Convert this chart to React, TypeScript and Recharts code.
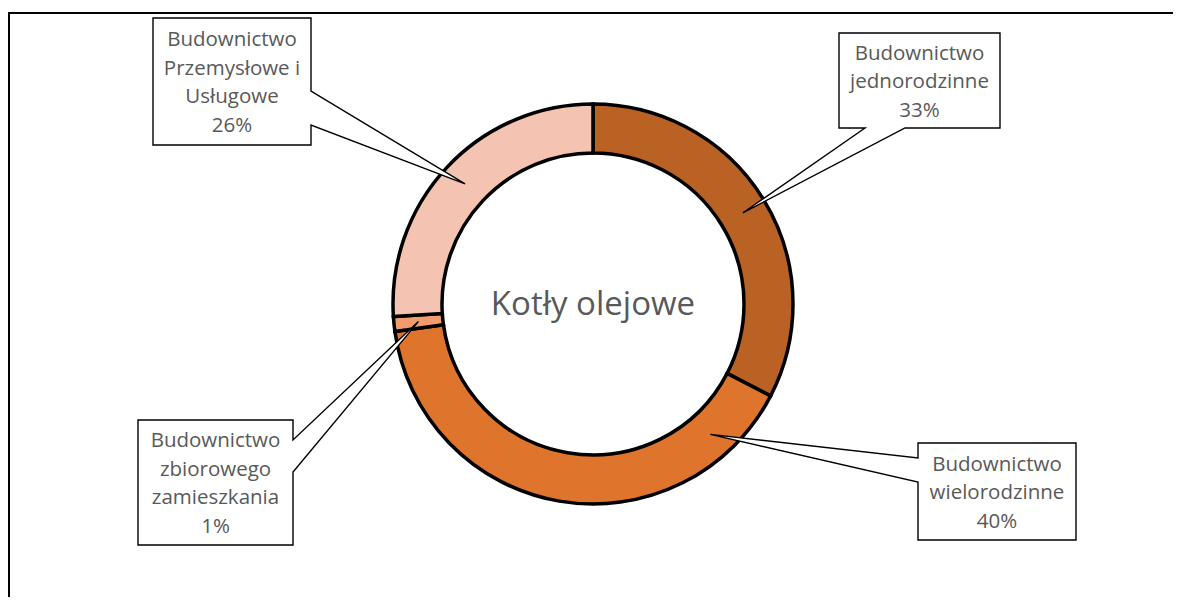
import React from "react";
import { PieChart, Pie, Cell } from "recharts";

// Kotły olejowe – share of oil boilers by building type (clockwise from 12 o'clock)
const categories = [
  "Budownictwo jednorodzinne",
  "Budownictwo wielorodzinne",
  "Budownictwo zbiorowego zamieszkania",
  "Budownictwo Przemysłowe i Usługowe",
];
const shares = [32.6, 40.2, 1.2, 26.0];
const labelLines = [
  ["Budownictwo", "jednorodzinne"],
  ["Budownictwo", "wielorodzinne"],
  ["Budownictwo", "zbiorowego", "zamieszkania"],
  ["Budownictwo", "Przemysłowe i", "Usługowe"],
];
const colors = ["#BA6224", "#DF742D", "#F09C6C", "#F5C3B1"];
const title = "Kotły olejowe";

const data = categories.map((name, i) => ({ name, value: shares[i] }));

// callout boxes (page coords) and where the pointer wedge leaves the box
type Callout = {
  x: number;
  y: number;
  w: number;
  h: number;
  side: "left" | "right" | "bottom";
  a: number;
  b: number;
  tipAngle?: number;
};
const callouts: Callout[] = [
  { x: 839, y: 33, w: 161, h: 95, side: "bottom", a: 865, b: 905 },
  { x: 918, y: 443, w: 158, h: 97, side: "left", a: 458, b: 482, tipAngle: -48 },
  { x: 138, y: 420, w: 155, h: 125, side: "right", a: 440, b: 472 },
  { x: 153, y: 18, w: 158, h: 127, side: "right", a: 91, b: 125 },
];

const FONT = "'Open Sans', sans-serif";
const TEXT = "#595959";
const RAD = Math.PI / 180;

function calloutPath(c: Callout, tx: number, ty: number) {
  const x2 = c.x + c.w;
  const y2 = c.y + c.h;
  if (c.side === "right") {
    return `M${c.x},${c.y} H${x2} V${c.a} L${tx},${ty} L${x2},${c.b} V${y2} H${c.x} Z`;
  }
  if (c.side === "bottom") {
    return `M${c.x},${c.y} H${x2} V${y2} H${c.b} L${tx},${ty} L${c.a},${y2} H${c.x} Z`;
  }
  return `M${c.x},${c.y} H${x2} V${y2} H${c.x} V${c.b} L${tx},${ty} L${c.x},${c.a} Z`;
}

const renderCallout = (props: any) => {
  const { cx, cy, midAngle, innerRadius, outerRadius, index, value } = props;
  const c = callouts[index];
  const r = (innerRadius + outerRadius) / 2;
  const ang = c.tipAngle ?? midAngle;
  const tx = cx + r * Math.cos(-ang * RAD);
  const ty = cy + r * Math.sin(-ang * RAD);
  const lines = [...labelLines[index], `${Math.round(value)}%`];
  const mid = c.y + c.h / 2;
  const step = 28.5;

  return (
    <g key={`callout-${index}`}>
      {index === 0 && (
        <text
          x={cx}
          y={cy + 11}
          textAnchor="middle"
          fill={TEXT}
          fontSize={33}
          fontFamily={FONT}
        >
          {title}
        </text>
      )}
      <path d={calloutPath(c, tx, ty)} fill="#fff" stroke="#000" strokeWidth={1.4} />
      {lines.map((t, i) => (
        <text
          key={i}
          x={c.x + c.w / 2}
          y={mid + (i - (lines.length - 1) / 2) * step + 7.5}
          textAnchor="middle"
          fill={TEXT}
          fontSize={20.5}
          fontFamily={FONT}
        >
          {t}
        </text>
      ))}
    </g>
  );
};

export default function App() {
  return (
    <div
      style={{
        position: "relative",
        top: 4,
        width: 1171,
        height: 587,
        borderTop: "2px solid #000",
        borderLeft: "2px solid #000",
      }}
    >
      <div style={{ position: "absolute", left: -10, top: -14 }}>
        <PieChart width={1181} height={601} margin={{ top: 0, right: 0, bottom: 0, left: 0 }}>
          <Pie
            data={data}
            dataKey="value"
            nameKey="name"
            cx={593}
            cy={304}
            innerRadius={151}
            outerRadius={200}
            startAngle={90}
            endAngle={-270}
            stroke="#000"
            strokeWidth={3.5}
            label={renderCallout}
            labelLine={false}
            isAnimationActive={false}
          >
            {data.map((d, i) => (
              <Cell key={d.name} fill={colors[i]} />
            ))}
          </Pie>
        </PieChart>
      </div>
    </div>
  );
}
